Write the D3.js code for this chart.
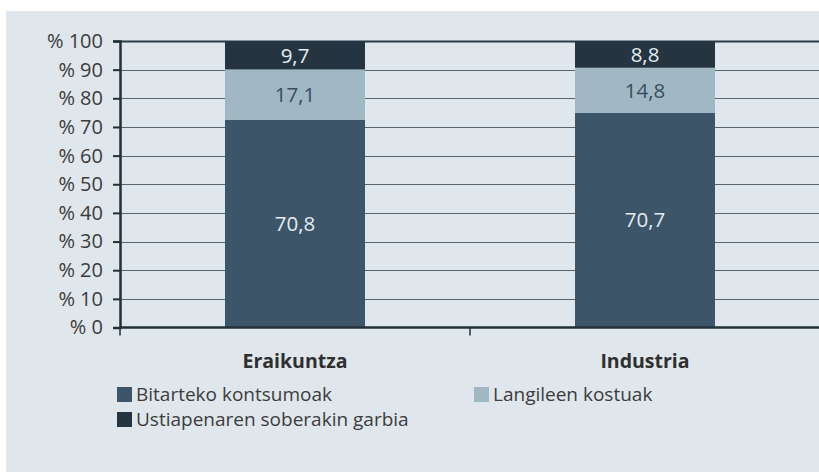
<!DOCTYPE html>
<html>
<head>
<meta charset="utf-8">
<script src="https://cdn.jsdelivr.net/npm/d3@7"></script>
<style>
  html, body { margin: 0; padding: 0; background: #ffffff; }
  svg { display: block; }
</style>
</head>
<body>
<div id="chart"></div>
<script>
"use strict";

// data
var categories = ["Eraikuntza", "Industria"];
var seriesNames = ["Bitarteko kontsumoak", "Langileen kostuak", "Ustiapenaren soberakin garbia"];
var bitartekoKontsumoak = [70.8, 70.7];
var langileenKostuak = [17.1, 14.8];
var ustiapenarenSoberakina = [9.7, 8.8];
var yTicks = [0, 10, 20, 30, 40, 50, 60, 70, 80, 90, 100];

var seriesValues = [bitartekoKontsumoak, langileenKostuak, ustiapenarenSoberakina];
var colors = ["#3d5568", "#a0b8c4", "#243440"];
var labelColors = ["#e4ecf1", "#3a4c5a", "#e4ecf1"];

var width = 819, height = 472;
var font = "'Open Sans', Lato, sans-serif";

var svg = d3.select("#chart").append("svg")
    .attr("width", width)
    .attr("height", height);

// grey panel behind everything
svg.append("rect")
    .attr("x", 6).attr("y", 11)
    .attr("width", width - 6).attr("height", height - 11)
    .attr("fill", "#dfe6ec");

var x = d3.scaleBand()
    .domain(categories)
    .range([120, 820])
    .padding(0);

var y = d3.scaleLinear()
    .domain([0, 100])
    .range([327.5, 41]);

// build 100% stacked rows
var rows = categories.map(function(c, i) {
    var row = { category: c };
    var total = 0;
    seriesValues.forEach(function(s) { total += s[i]; });
    seriesNames.forEach(function(n, j) {
        row[n] = seriesValues[j][i] / total * 100;
        row[n + "_raw"] = seriesValues[j][i];
    });
    return row;
});

var stacked = d3.stack().keys(seriesNames)(rows);

// gridlines
svg.append("g")
    .selectAll("line")
    .data(yTicks.filter(function(d) { return d > 0; }))
    .enter().append("line")
    .attr("x1", 120).attr("x2", width)
    .attr("y1", function(d) { return Math.round(y(d)) + 0.5; })
    .attr("y2", function(d) { return Math.round(y(d)) + 0.5; })
    .attr("stroke", function(d) { return d === 100 ? "#2c3a44" : "#55656e"; })
    .attr("stroke-width", function(d) { return d === 100 ? 2 : 1; });

// bars
var barWidth = x.bandwidth() * 0.4;
var layers = svg.append("g")
    .selectAll("g")
    .data(stacked)
    .enter().append("g")
    .attr("fill", function(d, i) { return colors[i]; });

layers.selectAll("rect")
    .data(function(d) { return d; })
    .enter().append("rect")
    .attr("x", function(d) { return x(d.data.category) + (x.bandwidth() - barWidth) / 2; })
    .attr("width", barWidth)
    .attr("y", function(d) { return y(d[1]); })
    .attr("height", function(d) { return y(d[0]) - y(d[1]); });

// value labels
stacked.forEach(function(layer, i) {
    svg.append("g")
        .selectAll("text")
        .data(layer)
        .enter().append("text")
        .attr("x", function(d) { return x(d.data.category) + x.bandwidth() / 2; })
        .attr("y", function(d) { return (y(d[0]) + y(d[1])) / 2; })
        .attr("dy", "0.36em")
        .attr("text-anchor", "middle")
        .attr("font-family", font)
        .attr("font-size", 20.5)
        .attr("fill", labelColors[i])
        .text(function(d) {
            return d3.format(".1f")(d.data[layer.key + "_raw"]).replace(".", ",");
        });
});

// y axis
var yAxis = svg.append("g")
    .attr("transform", "translate(120,0)")
    .call(d3.axisLeft(y).tickValues(yTicks).tickSize(7).tickPadding(10)
        .tickFormat(function(d) { return "% " + d; }));
yAxis.select(".domain").attr("stroke", "#22303a").attr("stroke-width", 2.5);
yAxis.selectAll(".tick line").attr("stroke", "#22303a").attr("stroke-width", 2);
yAxis.selectAll("text")
    .attr("font-family", font)
    .attr("font-size", 20)
    .attr("fill", "#3c3c3c");

// x axis line plus separator ticks
svg.append("line")
    .attr("x1", 120).attr("x2", width)
    .attr("y1", y(0)).attr("y2", y(0))
    .attr("stroke", "#22303a").attr("stroke-width", 2.5);

svg.append("g")
    .selectAll("line")
    .data(categories)
    .enter().append("line")
    .attr("x1", function(d) { return x(d); })
    .attr("x2", function(d) { return x(d); })
    .attr("y1", y(0)).attr("y2", y(0) + 8)
    .attr("stroke", "#22303a").attr("stroke-width", 1.5);

// category labels
svg.append("g")
    .selectAll("text")
    .data(categories)
    .enter().append("text")
    .attr("x", function(d) { return x(d) + x.bandwidth() / 2; })
    .attr("y", 368)
    .attr("text-anchor", "middle")
    .attr("font-family", font)
    .attr("font-weight", "bold")
    .attr("font-size", 19.5)
    .attr("fill", "#2f2f2f")
    .text(function(d) { return d; });

// legend
var legendPos = [[117, 387], [474, 387], [117, 412]];
var legend = svg.append("g")
    .selectAll("g")
    .data(seriesNames)
    .enter().append("g")
    .attr("transform", function(d, i) { return "translate(" + legendPos[i][0] + "," + legendPos[i][1] + ")"; });

legend.append("rect")
    .attr("width", 15).attr("height", 15)
    .attr("fill", function(d, i) { return colors[i]; });

legend.append("text")
    .attr("x", 19)
    .attr("y", 14)
    .attr("font-family", font)
    .attr("font-size", 19)
    .attr("fill", "#3c3c3c")
    .text(function(d) { return d; });
</script>
</body>
</html>
